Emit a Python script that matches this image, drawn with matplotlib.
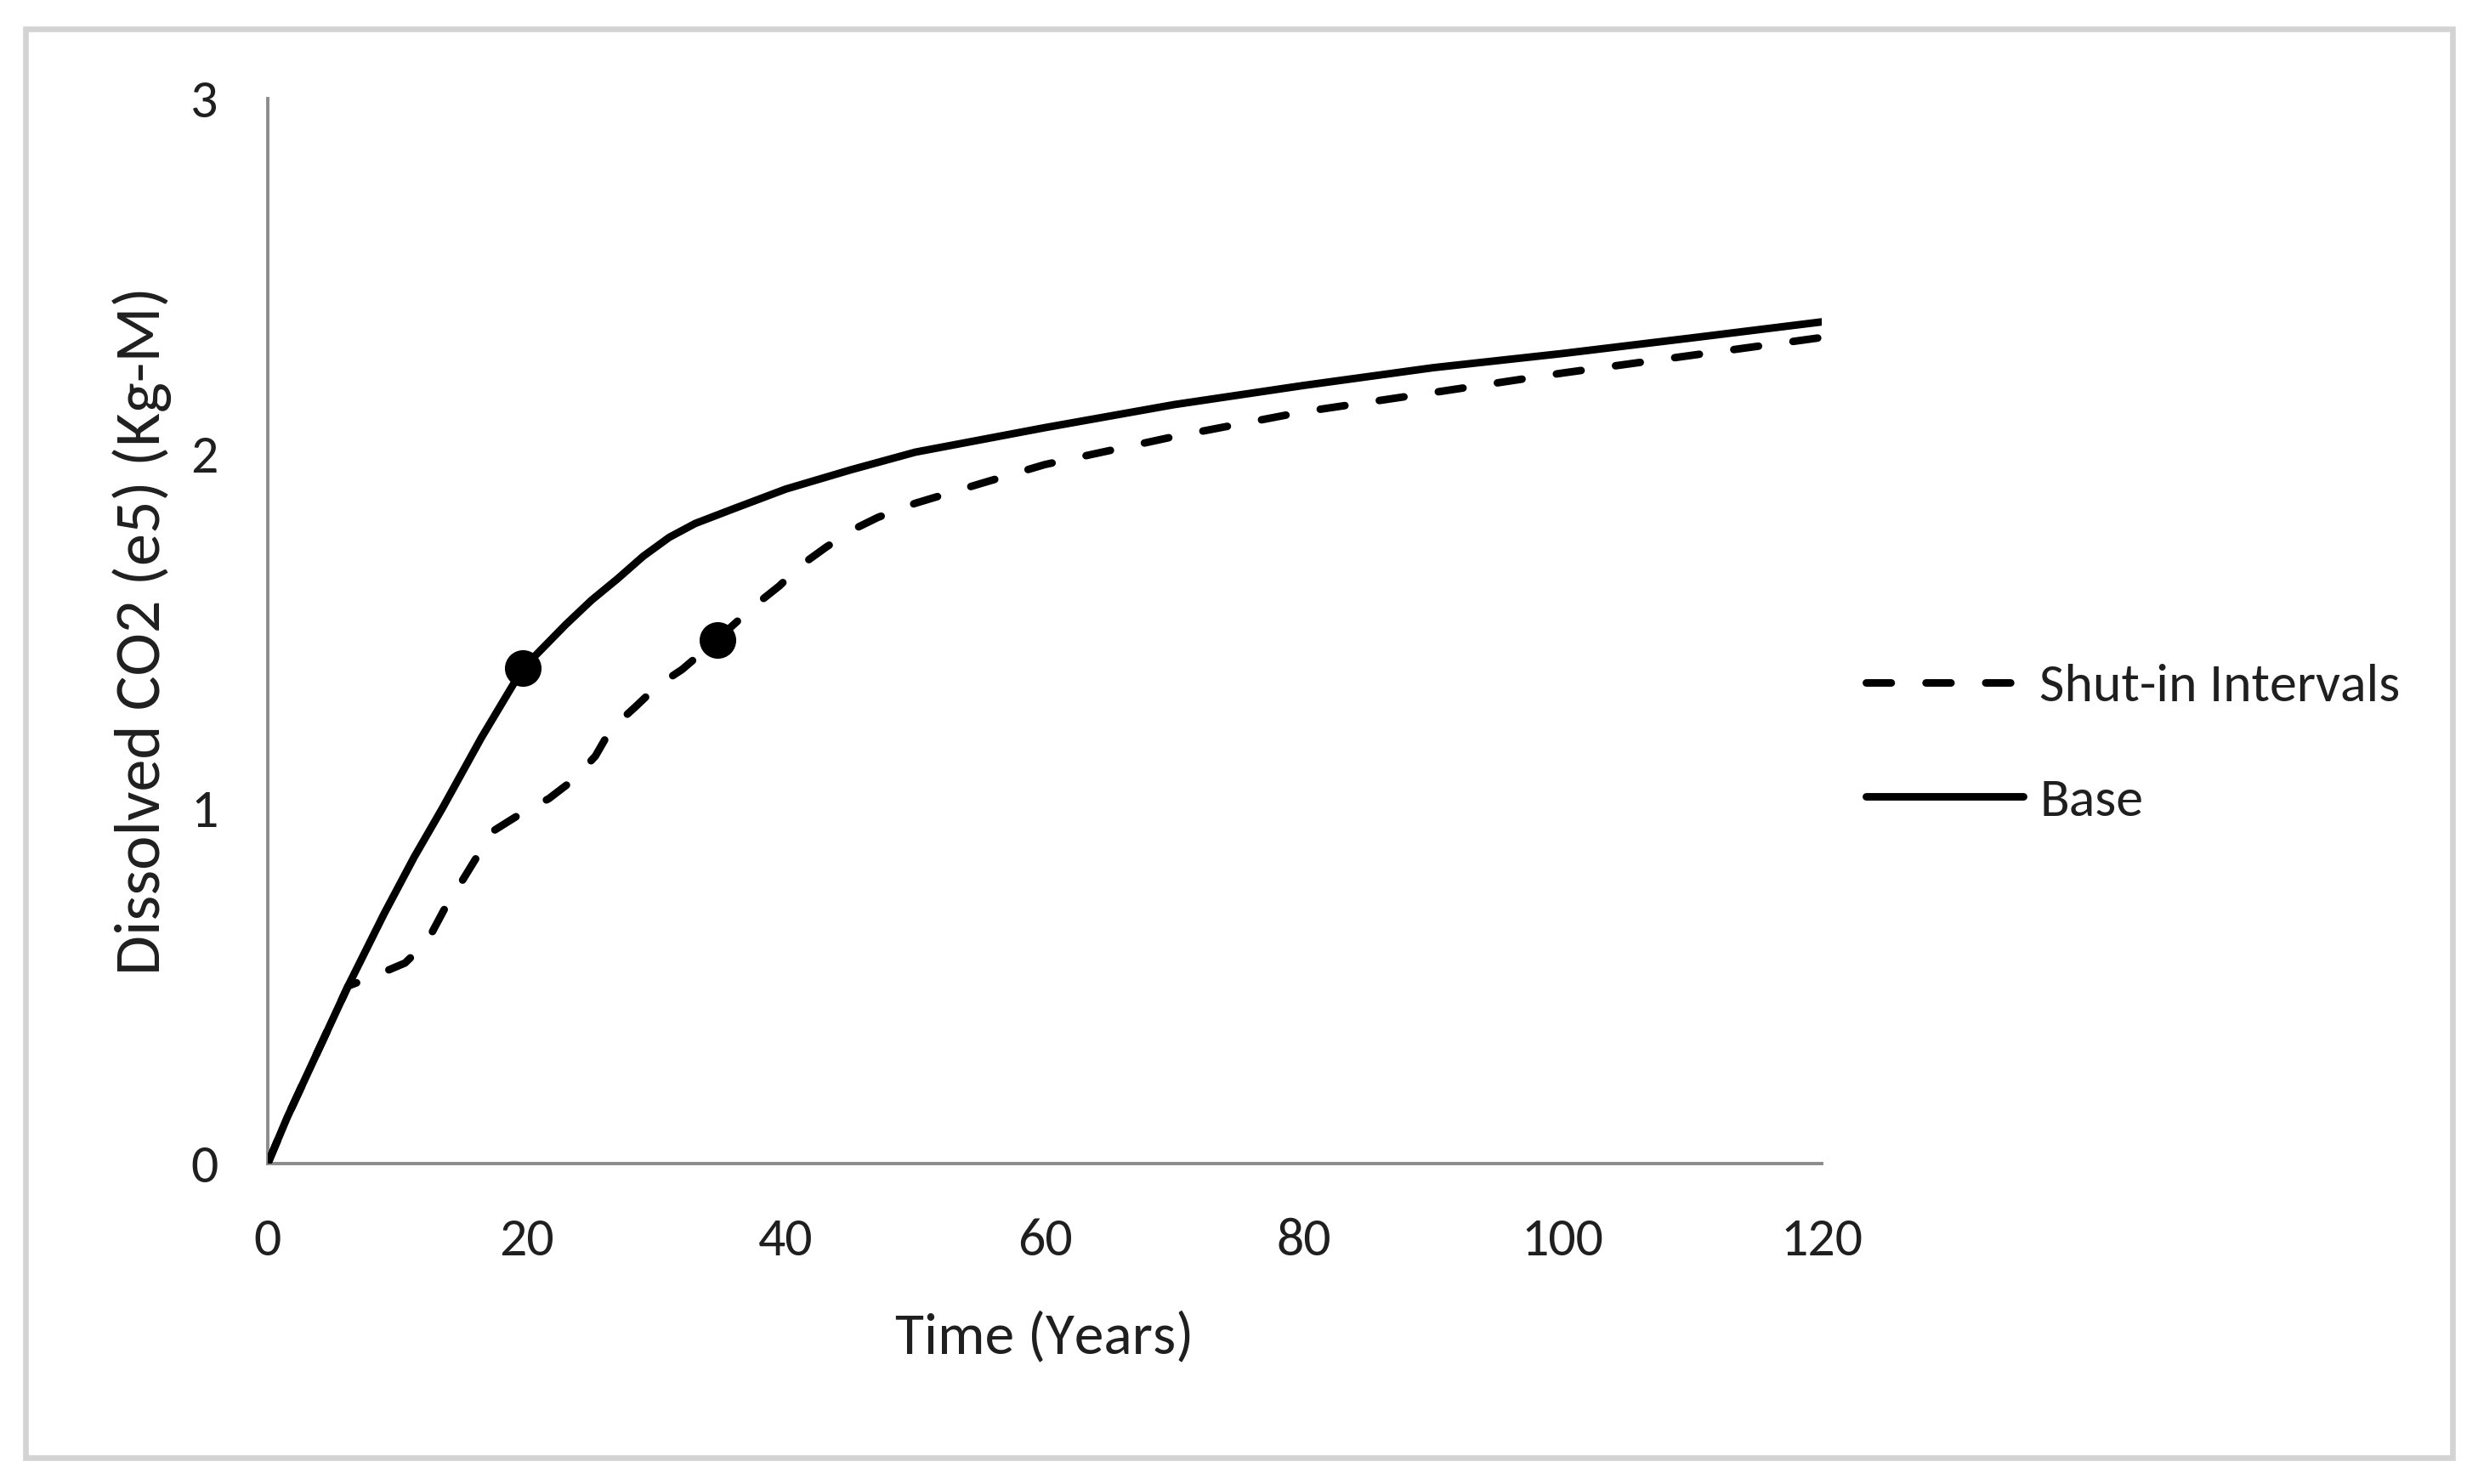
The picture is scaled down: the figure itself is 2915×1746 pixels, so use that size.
import matplotlib
matplotlib.use("Agg")
import matplotlib.pyplot as plt
from matplotlib.patches import Rectangle

plt.rcParams['font.family'] = ['Carlito', 'Liberation Sans Narrow', 'Lato', 'DejaVu Sans']

# ---- data ----
base_t = [0, 1.5, 6.2, 9, 11.3, 13.5, 16.5, 19.7, 23, 25, 27, 29, 31, 33,
          36, 40, 45, 50, 60, 70, 80, 90, 100, 110, 120]
base_v = [0, 0.13, 0.50, 0.705, 0.863, 1.002, 1.20, 1.395, 1.518, 1.587, 1.647,
          1.711, 1.764, 1.803, 1.845, 1.90, 1.954, 2.004, 2.073, 2.138, 2.192,
          2.242, 2.282, 2.326, 2.371]

shut_t = [0, 1.5, 6.2, 8.4, 10.6, 12.3, 13.6, 14.8, 16.3, 17.5, 19.6, 21.7,
          23.6, 25.3, 26.5, 28.4, 30.1, 32.0, 34.7, 37.6, 39.5, 41.2, 43.1, 45.2,
          47.1, 50, 55, 60, 70, 80, 90, 100, 110, 120]
shut_v = [0, 0.13, 0.50, 0.531, 0.565, 0.625, 0.714, 0.784, 0.873, 0.939, 0.987,
          1.028, 1.081, 1.148, 1.224, 1.287, 1.346, 1.392, 1.476, 1.572, 1.627,
          1.686, 1.736, 1.786, 1.82, 1.86, 1.915, 1.969, 2.048, 2.118, 2.172,
          2.227, 2.277, 2.327]

marker_t = [19.7, 34.7]
marker_v = [1.395, 1.476]

x_ticks = [0, 20, 40, 60, 80, 100, 120]
y_ticks = [0, 1, 2, 3]
labels = ['Shut-in Intervals', 'Base']
x_label = 'Time (Years)'
y_label = 'Dissolved CO2 (e5) (Kg-M)'

# ---- figure ----
W, H, DPI = 2915, 1746, 200
fig = plt.figure(figsize=(W / DPI, H / DPI), dpi=DPI)
fig.patch.set_facecolor('white')

# outer frame
fig.patches.append(Rectangle((30 / W, 1 - 1715 / H), (2885 - 30) / W, (1715 - 34) / H,
                             transform=fig.transFigure, fill=False,
                             edgecolor='#d3d3d3', linewidth=2.4, zorder=0))

ax_l, ax_r, ax_t, ax_b = 315, 2143, 116, 1369
ax = fig.add_axes([ax_l / W, 1 - ax_b / H, (ax_r - ax_l) / W, (ax_b - ax_t) / H])

txt_color = '#1f1f1f'
fs = 23

l_shut, = ax.plot(shut_t, shut_v, color='black', lw=3.2, ls=(0, (3.3, 4.6)),
                  dash_capstyle='round', solid_capstyle='round', label=labels[0], zorder=3)
l_base, = ax.plot(base_t, base_v, color='black', lw=3.2, solid_capstyle='round',
                  solid_joinstyle='round', label=labels[1], zorder=4)
ax.plot(marker_t, marker_v, ls='none', marker='o', ms=14.5, color='black', zorder=5)

ax.set_xlim(0, 120)
ax.set_ylim(0, 3)
ax.set_xticks(x_ticks)
ax.set_yticks(y_ticks)
ax.tick_params(axis='both', length=0, labelsize=fs, colors=txt_color)
ax.tick_params(axis='y', pad=21)
ax.tick_params(axis='x', pad=23)

for s in ['top', 'right']:
    ax.spines[s].set_visible(False)
for s in ['left', 'bottom']:
    ax.spines[s].set_color('#8c8c8c')
    ax.spines[s].set_linewidth(1.4)

ax.set_xlabel(x_label, fontsize=fs + 2, color=txt_color)
ax.set_ylabel(y_label, fontsize=27.5, color=txt_color)
ax.xaxis.set_label_coords(0.5, -0.139)
ax.yaxis.set_label_coords(-0.062, 0.5)

leg = ax.legend(handles=[l_shut, l_base], labels=labels, loc='center left',
                bbox_to_anchor=(2195 / W, 1 - 875 / H), bbox_transform=fig.transFigure,
                frameon=False, fontsize=23, handlelength=2.9, handletextpad=0.3,
                labelspacing=1.25, borderpad=0, borderaxespad=0)
for t in leg.get_texts():
    t.set_color(txt_color)

fig.savefig('out.png', dpi=DPI, facecolor='white')
